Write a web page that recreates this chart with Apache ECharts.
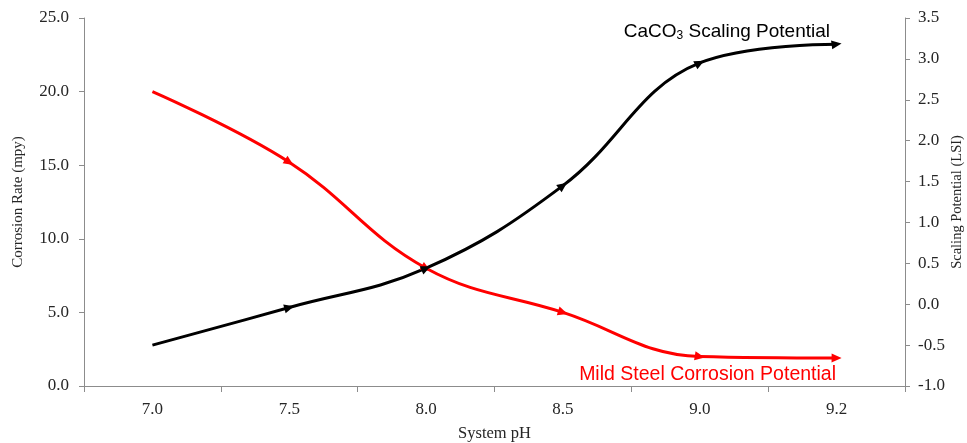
<!DOCTYPE html>
<html><head><meta charset="utf-8">
<script src="https://cdn.jsdelivr.net/npm/echarts@6/dist/echarts.min.js"></script>
<style>html,body{margin:0;padding:0;background:#fff}#c{width:967px;height:443px}</style>
</head><body><div id="c"></div>
<script>
const categories = ['7.0', '7.5', '8.0', '8.5', '9.0', '9.2'];
const corrosionRate = [20.0, 15.2, 8.0, 5.0, 2.0, 1.9];
const scalingLSI = [-0.5, -0.04, 0.44, 1.45, 2.95, 3.18];
const leftTicks = { min: 0, max: 25, interval: 5 };
const rightTicks = { min: -1.0, max: 3.5, interval: 0.5 };

const axisFont = 'Liberation Serif';
const axisCol = '#8c8c8c';
const txtCol = '#262626';

function mkData(vals) {
  return vals.map((v, i) => i === 0 ? { value: v, symbol: 'none' } : { value: v });
}

const chart = echarts.init(document.getElementById('c'), null, { renderer: 'canvas' });
const option = {
  animation: false,
  backgroundColor: '#fff',
  grid: { left: 84, right: 62, top: 18, bottom: 57, containLabel: false, outerBoundsMode: 'none' },
  xAxis: {
    type: 'category', data: categories, boundaryGap: true,
    name: 'System pH', nameLocation: 'middle', nameGap: 39,
    nameTextStyle: { fontFamily: axisFont, fontSize: 16.5, color: txtCol },
    axisLine: { lineStyle: { color: axisCol, width: 1 } },
    axisTick: { show: true, length: 6, inside: false, lineStyle: { color: axisCol } },
    axisLabel: { fontFamily: axisFont, fontSize: 17, color: txtCol, margin: 15 },
    splitLine: { show: false }
  },
  yAxis: [{
    type: 'value', position: 'left', min: leftTicks.min, max: leftTicks.max, interval: leftTicks.interval,
    name: 'Corrosion Rate (mpy)', nameLocation: 'middle', nameGap: 58, nameRotate: 90,
    nameMoveOverlap: false,
    nameTextStyle: { fontFamily: axisFont, fontSize: 15, color: txtCol },
    axisLine: { show: true, lineStyle: { color: axisCol } },
    axisTick: { show: true, length: 5, lineStyle: { color: axisCol } },
    axisLabel: { fontFamily: axisFont, fontSize: 17, color: txtCol, margin: 15, formatter: v => v.toFixed(1) },
    splitLine: { show: false }
  }, {
    type: 'value', position: 'right', min: rightTicks.min, max: rightTicks.max, interval: rightTicks.interval,
    name: 'Scaling Potential (LSI)', nameLocation: 'middle', nameGap: 45, nameRotate: 90,
    nameMoveOverlap: false,
    nameTextStyle: { fontFamily: axisFont, fontSize: 14.5, color: txtCol },
    axisLine: { show: true, lineStyle: { color: axisCol } },
    axisTick: { show: true, length: 5, lineStyle: { color: axisCol } },
    axisLabel: { fontFamily: axisFont, fontSize: 17, color: txtCol, margin: 13, formatter: v => v.toFixed(1) },
    splitLine: { show: false }
  }],
  series: [{
    name: 'Mild Steel Corrosion Potential', type: 'line', yAxisIndex: 0,
    data: mkData(corrosionRate), smooth: 0.4,
    lineStyle: { color: '#ff0000', width: 3 }, itemStyle: { color: '#ff0000' },
    symbol: 'triangle', symbolSize: [9, 10], showSymbol: true
  }, {
    name: 'CaCO3 Scaling Potential', type: 'line', yAxisIndex: 1,
    data: mkData(scalingLSI), smooth: 0.4,
    lineStyle: { color: '#000000', width: 3 }, itemStyle: { color: '#000000' },
    symbol: 'triangle', symbolSize: [9, 10], showSymbol: true
  }],
  graphic: [{
    type: 'text', right: 137, top: 22,
    style: {
      text: '{a|CaCO}{s|3}{a| Scaling Potential}',
      rich: {
        a: { fontFamily: 'Liberation Sans', fontSize: 19, fill: '#000' },
        s: { fontFamily: 'Liberation Sans', fontSize: 12, fill: '#000', verticalAlign: 'bottom', padding: [9, 0, 0, 0] }
      }
    }
  }, {
    type: 'text', right: 131, top: 365,
    style: { text: 'Mild Steel Corrosion Potential', fontFamily: 'Liberation Sans', fontSize: 19.5, fill: '#ff0000' }
  }]
};
chart.setOption(option);

function rotations(vals, yIdx) {
  const pts = vals.map((v, i) => chart.convertToPixel({ xAxisIndex: 0, yAxisIndex: yIdx }, [i, v]));
  return vals.map((v, i) => {
    const a = pts[Math.max(0, i - 1)], b = pts[Math.min(pts.length - 1, i + 1)];
    const ang = Math.atan2(-(b[1] - a[1]), b[0] - a[0]) * 180 / Math.PI;
    return ang - 90;
  });
}
function withRot(vals, yIdx) {
  const r = rotations(vals, yIdx);
  return vals.map((v, i) => i === 0 ? { value: v, symbol: 'none' } : { value: v, symbolRotate: r[i] });
}
chart.setOption({ series: [{ data: withRot(corrosionRate, 0) }, { data: withRot(scalingLSI, 1) }] });
</script></body></html>
